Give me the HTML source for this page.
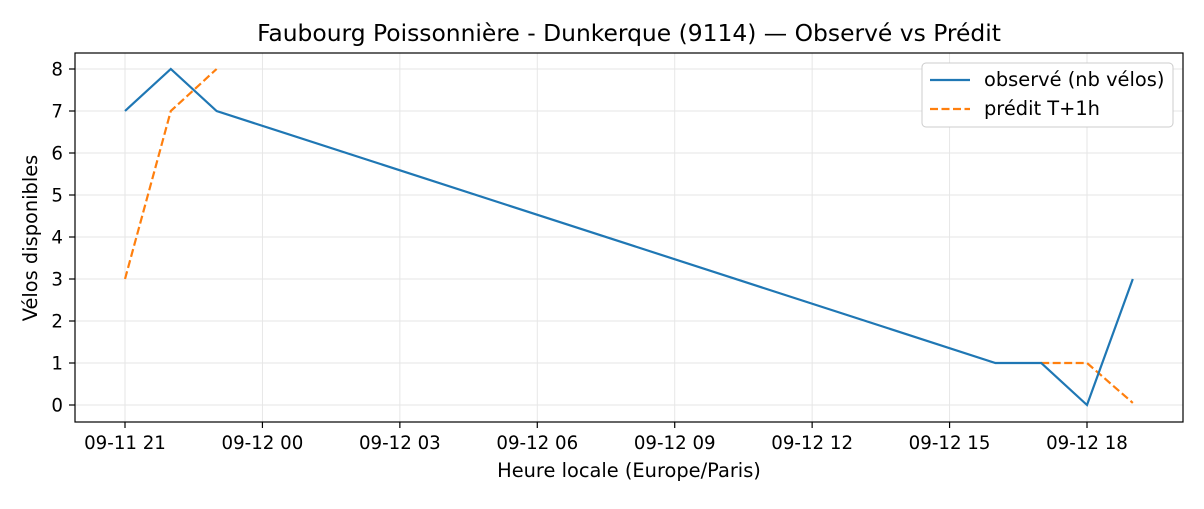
<!DOCTYPE html>
<html><head><meta charset="utf-8"><style>
body{margin:0;background:#fff;}
svg text{font-family:"DejaVu Sans","Liberation Sans",sans-serif;fill:#000;}
</style></head><body>
<svg id="chart" width="1204" height="504" xmlns="http://www.w3.org/2000/svg">
<text x="629" y="41" font-size="23.4" text-anchor="middle">Faubourg Poissonnière - Dunkerque (9114) — Observé vs Prédit</text>
<g id="grid"></g>
<g id="axes"></g>
<g id="series"></g>
<rect x="75" y="53" width="1108" height="369" fill="none" stroke="#000" stroke-width="1.2"/>
<text x="629" y="477" font-size="19.4" text-anchor="middle">Heure locale (Europe/Paris)</text>
<text transform="translate(37,238) rotate(-90)" font-size="19.4" text-anchor="middle">Vélos disponibles</text>
<g>
<rect x="922" y="63" width="251" height="64" rx="4" fill="#fff" stroke="#ccc"/>
<line x1="930" y1="80" x2="970" y2="80" stroke="#1f77b4" stroke-width="2.2"/>
<text x="984" y="86" font-size="19.4">observé (nb vélos)</text>
<line x1="930" y1="109" x2="970" y2="109" stroke="#ff7f0e" stroke-width="2.2" stroke-dasharray="8,3.5"/>
<text x="984" y="115" font-size="19.4">prédit T+1h</text>
</g>
</svg>
<script>
// hours since 09-11 21:00
const obsHours = [0, 1, 2, 19, 20, 21, 22];
const obsValues = [7, 8, 7, 1, 1, 0, 3];
const predSeg1Hours = [0, 1, 2];
const predSeg1Values = [3, 7, 8];
const predSeg2Hours = [20, 21, 22];
const predSeg2Values = [1, 1, 0.05];
const xTickHours = [0, 3, 6, 9, 12, 15, 18, 21];
const xTickLabels = ["09-11 21","09-12 00","09-12 03","09-12 06","09-12 09","09-12 12","09-12 15","09-12 18"];
const yTicks = [0,1,2,3,4,5,6,7,8];

const NS = "http://www.w3.org/2000/svg";
const x = h => 125 + h * (962 / 21);
const y = v => 405 - v * 42;
function mk(tag, attrs, parent){const e=document.createElementNS(NS,tag);for(const k in attrs)e.setAttribute(k,attrs[k]);parent.appendChild(e);return e;}
const grid=document.getElementById('grid'), axes=document.getElementById('axes'), series=document.getElementById('series');

xTickHours.forEach((h,i)=>{
  const gl=mk('line',{x1:x(h),x2:x(h),y1:53,y2:422,stroke:'#e6e6e6','stroke-width':1},grid);
  
  
  const t=mk('line',{x1:x(h),x2:x(h),y1:422,y2:428,stroke:'#000','stroke-width':1.2},axes);
  
  
  const tx=mk('text',{x:x(h),y:449,'font-size':18.2,'text-anchor':'middle'},axes);
  tx.textContent=xTickLabels[i];
  
  
});
yTicks.forEach(v=>{
  const gl=mk('line',{x1:75,x2:1183,y1:y(v),y2:y(v),stroke:'#e6e6e6','stroke-width':1},grid);
  
  
  const t=mk('line',{x1:69,x2:75,y1:y(v),y2:y(v),stroke:'#000','stroke-width':1.2},axes);
  
  
  const tx=mk('text',{x:63,y:y(v)+6.5,'font-size':18.2,'text-anchor':'end'},axes);
  tx.textContent=v;
  
  
});
function pts(hs,vs){return hs.map((h,i)=>x(h)+','+y(vs[i])).join(' ');}
const p1=mk('polyline',{points:pts(predSeg1Hours,predSeg1Values),fill:'none',stroke:'#ff7f0e','stroke-width':2.2,'stroke-dasharray':'8,3.5'},series);


const p2=mk('polyline',{points:pts(predSeg2Hours,predSeg2Values),fill:'none',stroke:'#ff7f0e','stroke-width':2.2,'stroke-dasharray':'8,3.5'},series);


const o=mk('polyline',{points:pts(obsHours,obsValues),fill:'none',stroke:'#1f77b4','stroke-width':2.2},series);


</script>
</body></html>
